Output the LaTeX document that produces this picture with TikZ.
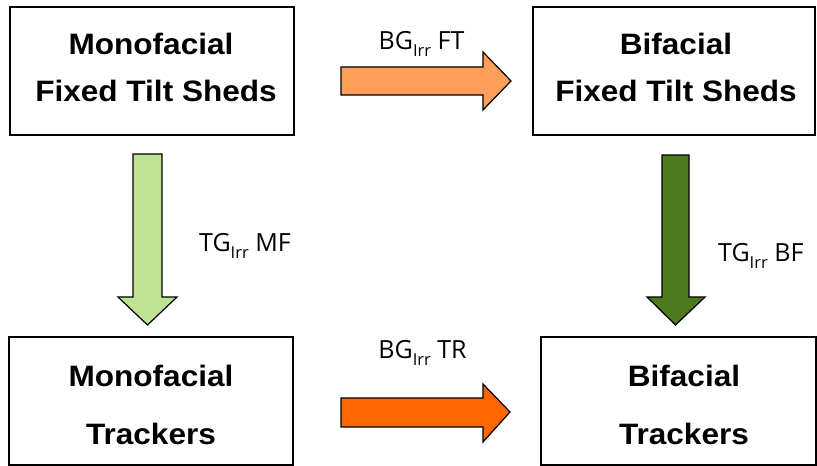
\documentclass[tikz,border=0pt]{standalone}
\usepackage{fontspec}
\setmainfont{Liberation Sans}
\newfontfamily\boxfont[FakeStretch=1.07]{Liberation Sans}
\newfontfamily\lblfont{Open Sans}
\definecolor{lorange}{HTML}{FF9E5A}
\definecolor{dorange}{HTML}{FF6600}
\definecolor{lgreen}{HTML}{BEE395}
\definecolor{dgreen}{HTML}{4E7A1E}
\newcommand{\irr}{\raisebox{-7pt}{\fontsize{16.5}{16.5}\selectfont Irr}}
\begin{document}
\begin{tikzpicture}[x=1pt,y=1pt,
  box/.style={draw=black,line width=1.5pt,fill=white},
  boxtxt/.style={anchor=base,inner sep=0pt,font=\boxfont\fontsize{29.5}{29.5}\selectfont\bfseries},
  lbl/.style={anchor=base,inner sep=0pt,font=\lblfont\fontsize{25}{25}\selectfont},
  blk/.style={draw=black,line width=1.2pt,line join=miter}]
\useasboundingbox (0,0) rectangle (817,466);
% boxes
\draw[box] (10,459) rectangle (294,331);
\draw[box] (533,459) rectangle (815,331);
\draw[box] (9,129) rectangle (293,1);
\draw[box] (541,129) rectangle (816,1);
% box texts
\node[boxtxt] (t1a) at (151,411) {Monofacial};
\node[boxtxt] (t1b) at (156,364) {Fixed Tilt Sheds};
\node[boxtxt] (t2a) at (676,411) {Bifacial};
\node[boxtxt] (t2b) at (676,364) {Fixed Tilt Sheds};
\node[boxtxt] (t3a) at (151,79) {Monofacial};
\node[boxtxt] (t3b) at (151,21) {Trackers};
\node[boxtxt] (t4a) at (684,79) {Bifacial};
\node[boxtxt] (t4b) at (684,21) {Trackers};
% block arrows
\draw[blk,fill=lorange] (341,399) -- (483,399) -- (483,414) -- (511,385) -- (483,356) -- (483,371) -- (341,371) -- cycle;
\draw[blk,fill=dorange] (341,68) -- (483,68) -- (483,82) -- (510,54) -- (483,24) -- (483,39) -- (341,39) -- cycle;
\draw[blk,fill=lgreen] (133,312) -- (162,312) -- (162,169) -- (177,169) -- (147.5,141) -- (118,169) -- (133,169) -- cycle;
\draw[blk,fill=dgreen] (662,311) -- (689,311) -- (689,169) -- (705,169) -- (675.5,141) -- (647,169) -- (662,169) -- cycle;
% labels
\node[lbl] (l1) at (421.5,416) {BG\irr{} FT};
\node[lbl] (l2) at (422.5,107) {BG\irr{} TR};
\node[lbl,anchor=base west] (l3) at (199,214) {TG\irr{} MF};
\node[lbl,anchor=base west] (l4) at (718,204) {TG\irr{} BF};
\end{tikzpicture}
\end{document}
